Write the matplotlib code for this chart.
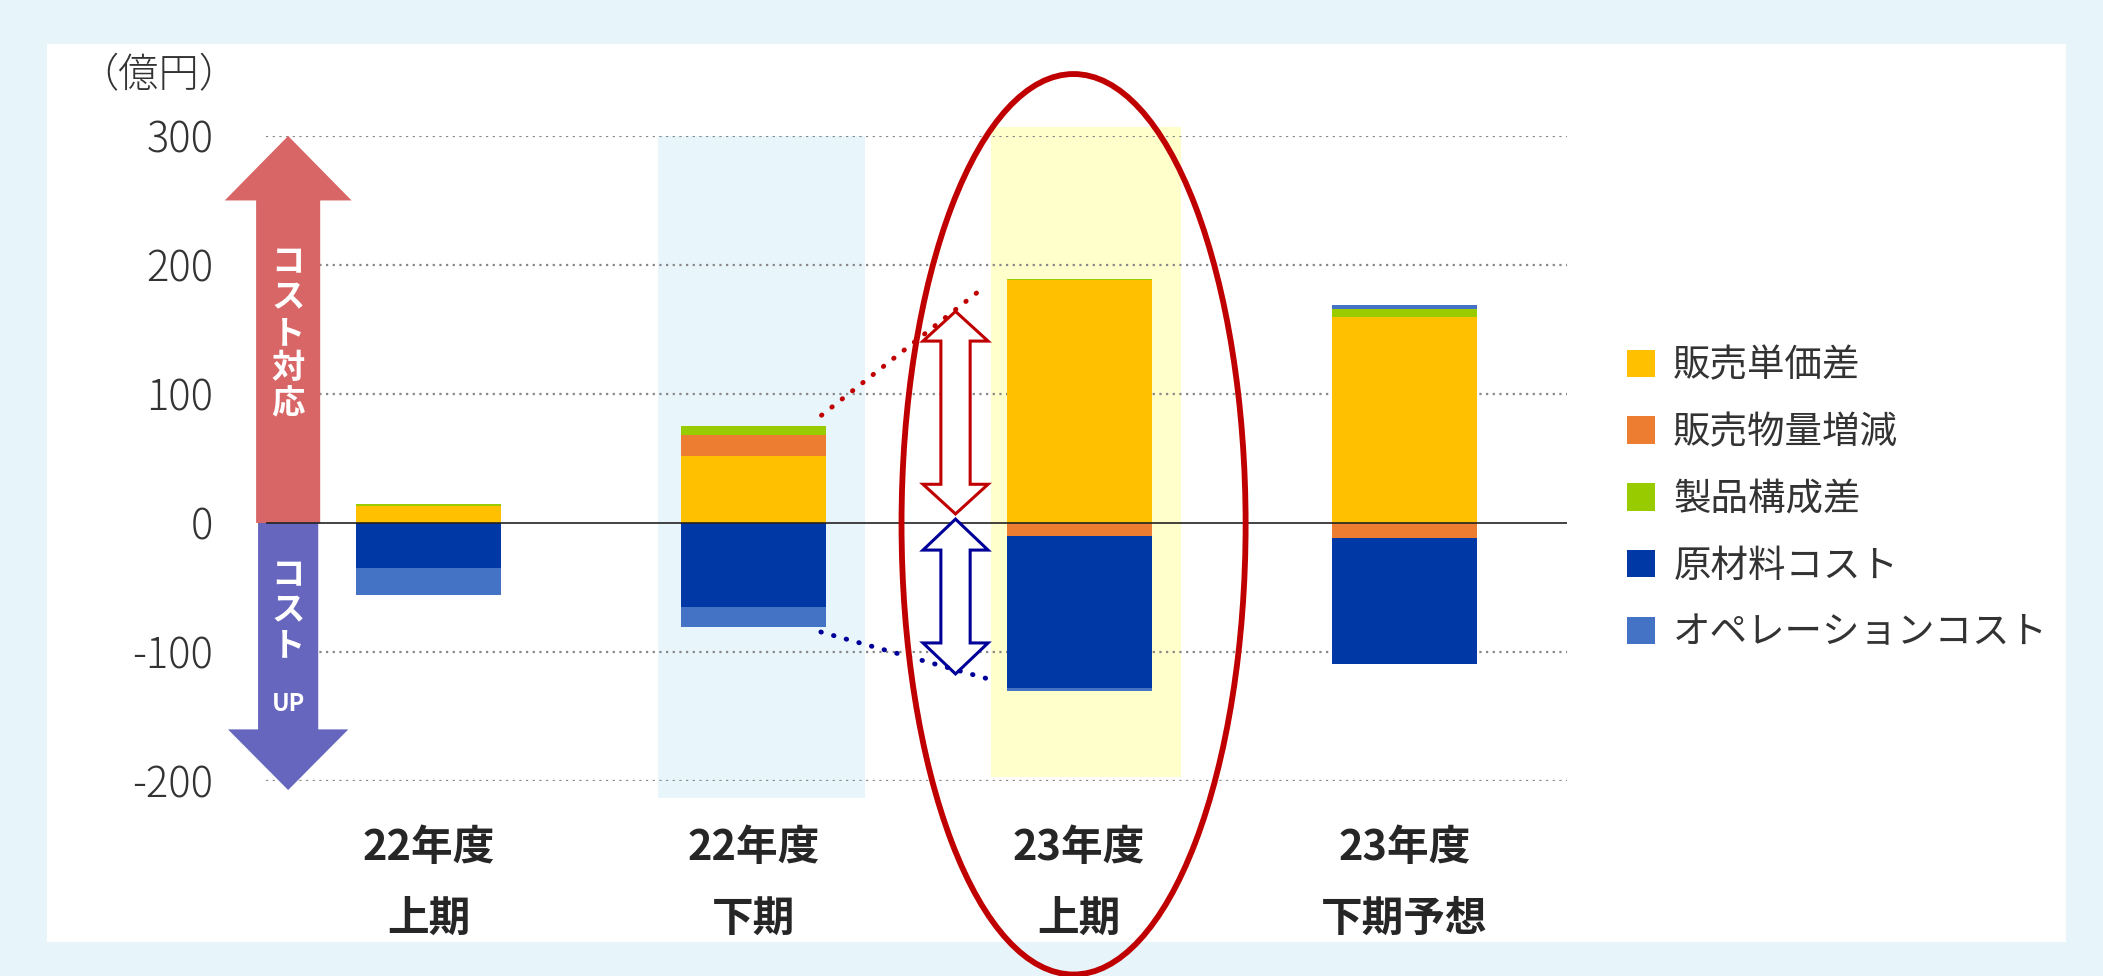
import matplotlib.pyplot as plt
import numpy as np
from matplotlib.patches import Rectangle, Ellipse, FancyArrow, Polygon

plt.rcParams['font.family'] = ['Noto Sans CJK JP', 'DejaVu Sans']

# data (億円)
categories = ["22年度\n上期", "22年度\n下期", "23年度\n上期", "23年度\n下期予想"]
series_names = ["販売単価差", "販売物量増減", "製品構成差", "原材料コスト", "オペレーションコスト"]
price_diff = [13, 52, 188, 160]
volume_diff = [0, 16, -10, -12]
mix_diff = [2, 7, 1, 6]
material_cost = [-35, -65, -118, -97]
operation_cost = [-21, -16, -2, 3]
series_values = [price_diff, volume_diff, mix_diff, material_cost, operation_cost]
series_colors = ["#FFC000", "#ED7D31", "#99CC00", "#0039A6", "#4472C4"]
y_ticks = [-200, -100, 0, 100, 200, 300]

fig = plt.figure(figsize=(21.03, 9.76), dpi=100)
fig.patch.set_facecolor("#E7F4FA")
fig.patches.append(Rectangle((0.0223, 0.0348), 0.9601, 0.9201, transform=fig.transFigure,
                             facecolor="white", edgecolor="none", zorder=-5))

ax = fig.add_axes([0.1265, 0.1998, 0.6186, 0.6609])
ax.patch.set_visible(False)
x = np.arange(len(categories))

# highlight bands behind 22下 and 23上
ax.add_patch(Rectangle((0.706, -213), 0.637, 513, facecolor="#E8F6FC", edgecolor="none",
                       zorder=0.2, clip_on=False))
ax.add_patch(Rectangle((1.728, -197), 0.584, 504, facecolor="#FFFFCC", edgecolor="none",
                       zorder=0.2, clip_on=False))

# stacked bars, positives up and negatives down
pos_bottom = np.zeros(len(categories))
neg_bottom = np.zeros(len(categories))
handles = []
for name, vals, col in zip(series_names, series_values, series_colors):
    vals = np.array(vals, dtype=float)
    bottoms = np.where(vals >= 0, pos_bottom, neg_bottom)
    b = ax.bar(x, vals, width=0.446, bottom=bottoms, color=col, label=name, zorder=3)
    handles.append(b)
    pos_bottom += np.where(vals > 0, vals, 0)
    neg_bottom += np.where(vals < 0, vals, 0)

ax.set_xlim(-0.5, 3.5)
ax.set_ylim(-200, 300)
ax.set_yticks(y_ticks)
ax.set_yticklabels([str(v) for v in y_ticks], fontsize=30, color="#333333", fontweight="light")
ax.set_xticks(x)
ax.set_xticklabels(categories, fontsize=30, fontweight="bold", color="#262626", linespacing=1.89)
ax.tick_params(axis="y", length=0, pad=38)
ax.tick_params(axis="x", length=0, pad=33)
for s in ax.spines.values():
    s.set_visible(False)
for t in y_ticks:
    if t != 0:
        ax.axhline(t, color="#888888", lw=1.6, ls=(0, (1, 2)), zorder=0.5)
ax.axhline(0, color="#222222", lw=1.2, zorder=4)

fig.text(0.037, 0.922, "（億円）", fontsize=29, color="#333333", ha="left", va="center",
         fontweight="light")

# cost arrows on the left
ax.add_patch(FancyArrow(-0.432, 0, 0, 300, width=0.197, head_width=0.39, head_length=50,
                        length_includes_head=True, color="#D96666", lw=0, zorder=2, clip_on=False))
ax.add_patch(FancyArrow(-0.432, 0, 0, -207, width=0.185, head_width=0.37, head_length=47,
                        length_includes_head=True, color="#6666BE", lw=0, zorder=2, clip_on=False))
ax.text(-0.432, 147, "コ\nス\nト\n対\n応", color="white", fontsize=24, fontweight="bold",
        ha="center", va="center", linespacing=1.08, zorder=5)
ax.text(-0.432, -68, "コ\nス\nト", color="white", fontsize=24, fontweight="bold",
        ha="center", va="center", linespacing=1.08, zorder=5)
ax.text(-0.432, -140, "UP", color="white", fontsize=17, fontweight="bold",
        ha="center", va="center", zorder=5)


def double_arrow(cx, y0, y1, hw, sw, hl, color):
    pts = [(cx, y1), (cx + hw, y1 - hl), (cx + sw, y1 - hl), (cx + sw, y0 + hl),
           (cx + hw, y0 + hl), (cx, y0), (cx - hw, y0 + hl), (cx - sw, y0 + hl),
           (cx - sw, y1 - hl), (cx - hw, y1 - hl)]
    ax.add_patch(Polygon(pts, closed=True, facecolor="white", edgecolor=color, lw=2.2,
                         zorder=5, clip_on=False))


double_arrow(1.62, 7, 164, 0.1, 0.045, 23, "#C00000")
double_arrow(1.62, -117, 3, 0.1, 0.045, 24, "#000099")

# dotted guide lines from 22下 to 23上
ax.plot([1.208, 1.706], [83.5, 182.5], color="#C00000", lw=3.5, ls=(0, (0.1, 2.6)),
        dash_capstyle="round", zorder=5, clip_on=False)
ax.plot([1.206, 1.715], [-84.5, -120.5], color="#000099", lw=3.5, ls=(0, (0.1, 2.6)),
        dash_capstyle="round", zorder=5, clip_on=False)

# highlight ellipse around 23上
ax.add_patch(Ellipse((1.983, -1), 1.058, 698, facecolor="none", edgecolor="#C00000", lw=4.2,
                     zorder=6, clip_on=False))

ax.legend(handles=handles, loc="upper left", bbox_to_anchor=(0.7737, 0.645),
          bbox_transform=fig.transFigure, frameon=False, fontsize=27, handlelength=0.75,
          handleheight=0.75, handletextpad=0.48, labelspacing=0.74, borderpad=0,
          borderaxespad=0, labelcolor="#333333")

fig.savefig("out.png", dpi=100, facecolor=fig.get_facecolor())
